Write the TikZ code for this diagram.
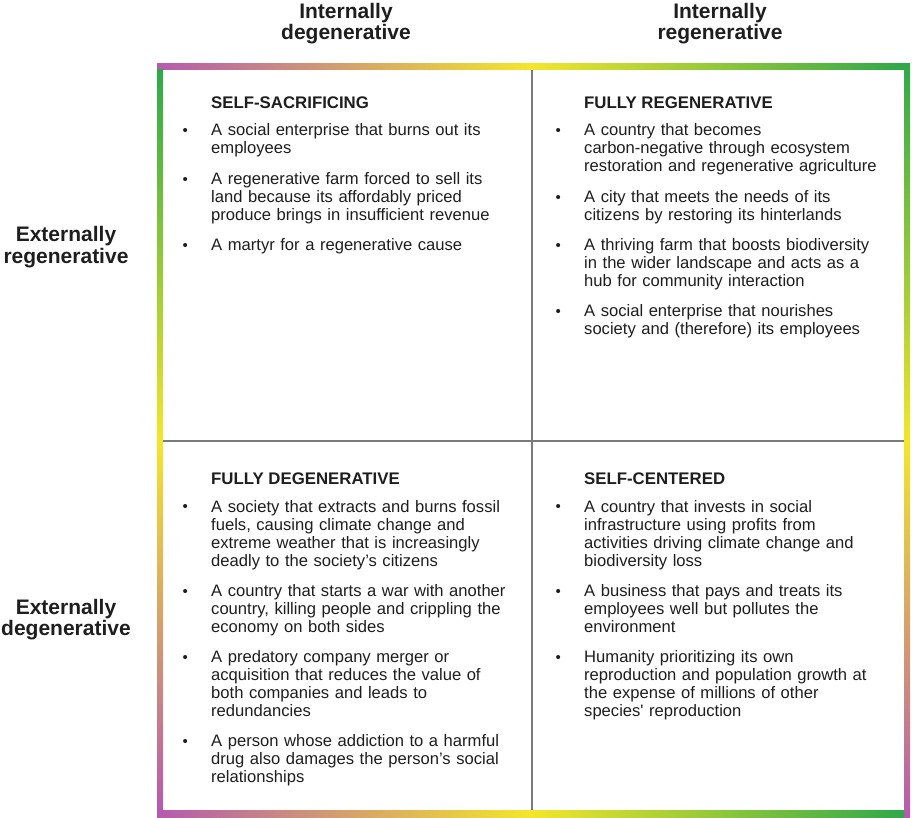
\documentclass[tikz,border=0pt]{standalone}
\usepackage{fontspec}
\setmainfont{Liberation Sans}
\definecolor{bpurple}{HTML}{B55AAE}
\definecolor{byellow}{HTML}{F3E62C}
\definecolor{bgreen}{HTML}{2FA84A}
\definecolor{gridgray}{HTML}{7A7A7A}
\definecolor{txt}{HTML}{1E1E1E}
\newcommand\bul{\makebox[28pt][l]{\hspace{-0.5pt}\fontsize{15}{15}\selectfont\raisebox{0.2pt}{•}}}
\newcommand\bitem[1]{\noindent\hangindent=28pt\hangafter=1\bul#1\par}
\newcommand\isep{\vspace{12.3pt}}
\tikzset{
  axislabel/.style={text width=200pt, align=center, anchor=base, inner sep=0pt,
    font=\fontsize{21}{21}\selectfont\bfseries, text=txt},
  qtitle/.style={anchor=base west, inner sep=0pt,
    font=\fontsize{16.8}{18}\selectfont\bfseries, text=txt},
  qbody/.style={anchor=base west, inner sep=0pt, text width=345pt,
    font=\fontsize{16.6}{18}\selectfont, text=txt},
  gridline/.style={draw=gridgray, line width=1.4pt},
  hstrip/.style={left color=bpurple, right color=bgreen, middle color=byellow},
  vstrip/.style={top color=bgreen, bottom color=bpurple, middle color=byellow}
}
\begin{document}
\begin{tikzpicture}[x=1pt,y=-1pt]
\useasboundingbox[fill=white] (0,0) rectangle (912,818);
% gradient frame
\shade[hstrip] (157,64) rectangle (904,70);
\shade[hstrip] (157,810) rectangle (904,817);
\shade[vstrip] (157,70) rectangle (163,810);
\shade[vstrip] (904,64) rectangle (910,817);
% grid
\coordinate (vt) at (532,70);
\coordinate (vb) at (532,810);
\coordinate (hl) at (163,441);
\coordinate (hr) at (904,441);
\draw[gridline] (vt) -- (vb);
\draw[gridline] (hl) -- (hr);
% axis labels
\node[axislabel] (hid) at (346,19) {Internally\\degenerative};
\node[axislabel] (hir) at (720,19) {Internally\\regenerative};
\node[axislabel, text width=140pt] (ler) at (66,242) {Externally\\regenerative};
\node[axislabel, text width=140pt] (led) at (66,614) {Externally\\degenerative};
% quadrant titles
\node[qtitle] (tss) at (211,109) {SELF-SACRIFICING};
\node[qtitle] (tfr) at (584,109) {FULLY REGENERATIVE};
\node[qtitle] (tfd) at (211,484) {FULLY DEGENERATIVE};
\node[qtitle] (tsc) at (584,484) {SELF-CENTERED};
% quadrant bodies
\node[qbody] (bss) at (183,136) {%
\bitem{A social enterprise that burns out its\newline employees}\isep
\bitem{A regenerative farm forced to sell its\newline land because its affordably priced\newline produce brings in insufficient revenue}\isep
\bitem{A martyr for a regenerative cause}};
\node[qbody] (bfr) at (556,136) {%
\bitem{A country that becomes\newline carbon-negative through ecosystem\newline restoration and regenerative agriculture}\isep
\bitem{A city that meets the needs of its\newline citizens by restoring its hinterlands}\isep
\bitem{A thriving farm that boosts biodiversity\newline in the wider landscape and acts as a\newline hub for community interaction}\isep
\bitem{A social enterprise that nourishes\newline society and (therefore) its employees}};
\node[qbody] (bfd) at (183,512) {%
\bitem{A society that extracts and burns fossil\newline fuels, causing climate change and\newline extreme weather that is increasingly\newline deadly to the society’s citizens}\isep
\bitem{A country that starts a war with another\newline country, killing people and crippling the\newline economy on both sides}\isep
\bitem{A predatory company merger or\newline acquisition that reduces the value of\newline both companies and leads to\newline redundancies}\isep
\bitem{A person whose addiction to a harmful\newline drug also damages the person’s social\newline relationships}};
\node[qbody] (bsc) at (556,512) {%
\bitem{A country that invests in social\newline infrastructure using profits from\newline activities driving climate change and\newline biodiversity loss}\isep
\bitem{A business that pays and treats its\newline employees well but pollutes the\newline environment}\isep
\bitem{Humanity prioritizing its own\newline reproduction and population growth at\newline the expense of millions of other\newline species\textquotesingle{} reproduction}};
\end{tikzpicture}
\end{document}
